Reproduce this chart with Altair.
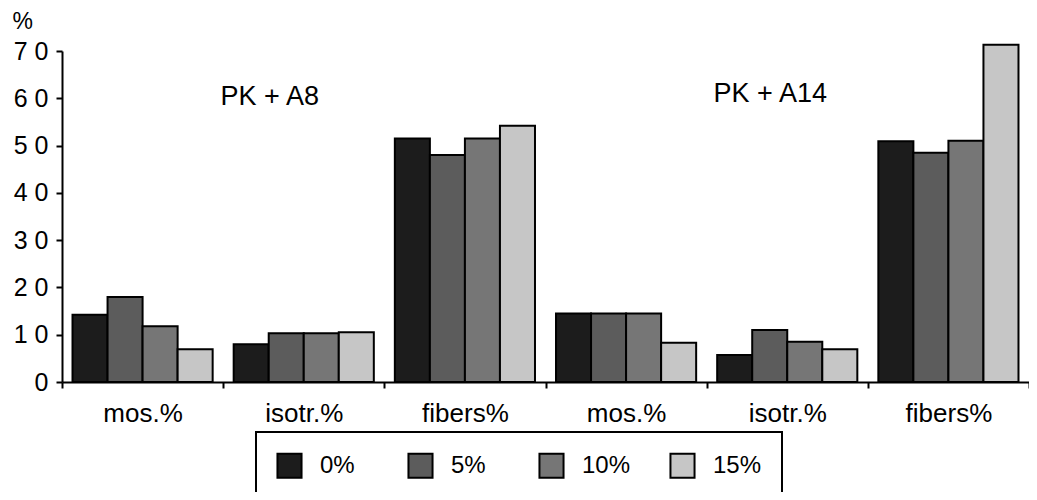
import altair as alt
import pandas as pd

groups = ["mos.% A8", "isotr.% A8", "fibers% A8", "mos.% A14", "isotr.% A14", "fibers% A14"]
series = ["0%", "5%", "10%", "15%"]
v0 = [14.2, 8.0, 51.5, 14.5, 5.7, 50.9]
v5 = [18.0, 10.3, 48.0, 14.5, 11.0, 48.5]
v10 = [11.8, 10.3, 51.5, 14.5, 8.5, 51.0]
v15 = [6.9, 10.5, 54.2, 8.3, 6.9, 71.3]
y_ticks = [0, 10, 20, 30, 40, 50, 60, 70]
annot_text = ["PK + A8", "PK + A14"]
annot_group = ["isotr.% A8", "isotr.% A14"]
colors = ["#1c1c1c", "#5c5c5c", "#767676", "#c6c6c6"]

rows = []
for s, vals in zip(series, [v0, v5, v10, v15]):
    for g, v in zip(groups, vals):
        rows.append({"group": g, "series": s, "value": v})
df = pd.DataFrame(rows)
ann = pd.DataFrame({"group": annot_group, "text": annot_text})

FONT = "Liberation Sans"
W, H = 967, 331

bars = alt.Chart(df).mark_bar(stroke="black", strokeWidth=2).encode(
    x=alt.X("group:N", sort=groups,
            scale=alt.Scale(paddingInner=0, paddingOuter=0),
            axis=alt.Axis(title=None, labelAngle=0, tickBand="extent",
                          labelExpr="split(datum.label, ' ')[0]",
                          labelFont=FONT, labelFontSize=26, labelColor="black",
                          labelPadding=12, tickSize=6, tickWidth=2, tickColor="black",
                          domainColor="black", domainWidth=2, grid=False)),
    xOffset=alt.XOffset("series:N", sort=series,
                        scale=alt.Scale(paddingInner=0, paddingOuter=0.3)),
    y=alt.Y("value:Q",
            scale=alt.Scale(domain=[0, 70], nice=False, zero=True),
            axis=alt.Axis(values=y_ticks, title="%", titleAngle=0,
                          titleFont=FONT, titleFontSize=23, titleFontWeight="normal",
                          titleColor="black", titleAlign="left", titleBaseline="alphabetic",
                          titleX=-50, titleY=-23,
                          labelExpr="datum.value == 0 ? '0' : format(datum.value / 10, 'd') + ' 0'",
                          labelFont=FONT, labelFontSize=25, labelColor="black",
                          labelPadding=8, tickSize=6, tickWidth=2, tickColor="black",
                          domainColor="black", domainWidth=2, grid=False)),
    color=alt.Color("series:N", sort=series,
                    scale=alt.Scale(domain=series, range=colors),
                    legend=alt.Legend(title=None, orient="none", direction="horizontal",
                                      legendX=194, legendY=381, columns=4, gridAlign="all",
                                      symbolType="square", symbolSize=580,
                                      symbolStrokeColor="black", symbolStrokeWidth=2,
                                      symbolOpacity=1,
                                      labelFont=FONT, labelFontSize=24, labelColor="black",
                                      labelOffset=17, columnPadding=35,
                                      padding=20, strokeColor="black")),
)

t1 = alt.Chart(ann).transform_filter(alt.datum.text == "PK + A8").mark_text(
    font=FONT, fontSize=27, color="black", baseline="middle", dx=-34
).encode(
    x=alt.X("group:N", sort=groups),
    y=alt.value(46),
    text="text:N",
)
t2 = alt.Chart(ann).transform_filter(alt.datum.text == "PK + A14").mark_text(
    font=FONT, fontSize=27, color="black", baseline="middle", dx=-17
).encode(
    x=alt.X("group:N", sort=groups),
    y=alt.value(43),
    text="text:N",
)

chart = alt.layer(bars, t1, t2).properties(
    width=W, height=H,
    autosize=alt.AutoSizeParams(type="none"),
    padding={"left": 54, "top": 43, "right": 0, "bottom": 110},
).configure_view(stroke=None).configure_legend(strokeWidth=2)

chart.save("out.html", embed_options={"renderer": "svg", "actions": False})
